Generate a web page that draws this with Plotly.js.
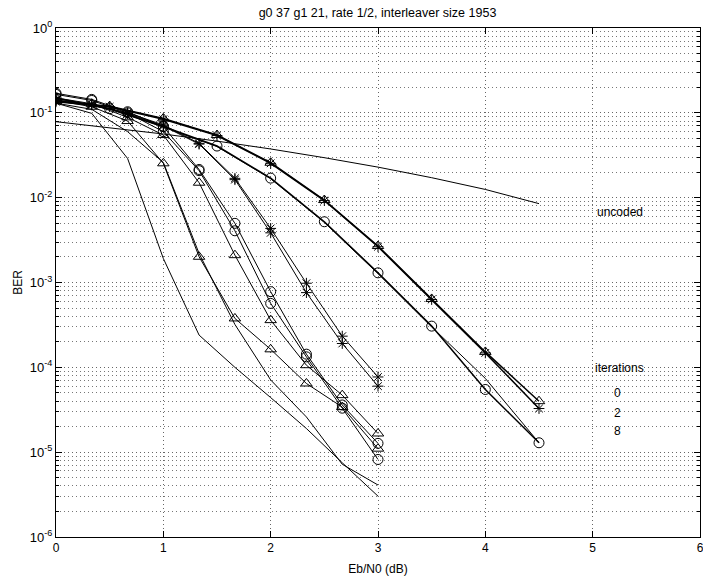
<!DOCTYPE html>
<html>
<head>
<meta charset="utf-8">
<script src="https://cdn.plot.ly/plotly-3.0.1.min.js"></script>
<style>html,body{margin:0;padding:0;background:#fff;}#chart{width:703px;height:577px;}</style>
</head>
<body>
<div id="chart"></div>
<script>
// Eb/N0 grids (dB)
const xHalf = [0, 0.5, 1, 1.5, 2, 2.5, 3, 3.5, 4, 4.5];
const xThird = [0, 0.333, 0.667, 1, 1.333, 1.667, 2, 2.333, 2.667, 3];

// uncoded BPSK
const uncoded = [0.0786, 0.0671, 0.0563, 0.0464, 0.0375, 0.0296, 0.0229, 0.0172, 0.0125, 0.0085];

// 0.5 dB step curves
const triHalf = [0.137, 0.120, 0.086, 0.0547, 0.0258, 0.00937, 0.00269, 0.00064, 0.000152, 3.99e-5];
const astHalf = [0.135, 0.118, 0.084, 0.0540, 0.0254, 0.00925, 0.00264, 0.00063, 0.000148, 3.27e-5];
const cirHalf = [0.150, 0.112, 0.069, 0.0406, 0.0170, 0.00520, 0.00130, 0.000306, 5.48e-5, 1.29e-5];
const lineHalf = [0.148, 0.110, 0.068, 0.0400, 0.0167, 0.00510, 0.00127, 0.000300, 7.4e-5, 1.29e-5];

// 1/3 dB step curves
const astA = [0.142, 0.126, 0.100, 0.072, 0.0437, 0.0169, 0.00434, 0.00098, 0.000233, 7.7e-5];
const astB = [0.140, 0.124, 0.098, 0.070, 0.0428, 0.0163, 0.00385, 0.00076, 0.000191, 6.0e-5];
const cirA = [0.170, 0.144, 0.103, 0.0687, 0.0215, 0.00498, 0.00078, 0.000143, 3.6e-5, 1.27e-5];
const cirB = [0.165, 0.140, 0.100, 0.0600, 0.0208, 0.00407, 0.000567, 0.000133, 3.3e-5, 8.2e-6];
const triA = [0.150, 0.128, 0.0885, 0.0547, 0.0150, 0.00210, 0.00036, 0.000106, 4.7e-5, 1.66e-5];
const triB = [0.140, 0.118, 0.080, 0.0254, 0.00201, 0.000377, 0.000163, 6.45e-5, 3.4e-5, 1.1e-5];
const lineA = [0.130, 0.0986, 0.029, 0.00192, 0.00024, 0.0001, 4.4e-5, 1.9e-5, 7.5e-6, 3.03e-6];
const lineB = [0.130, 0.110, 0.060, 0.026, 0.0022, 0.00032, 7.1e-5, 2.6e-5, 7.2e-6, 4.1e-6];

// axis ticks
const yTickVals = [1e-6, 1e-5, 1e-4, 1e-3, 1e-2, 1e-1, 1];
const yTickText = ["10<sup>-6</sup>", "10<sup>-5</sup>", "10<sup>-4</sup>", "10<sup>-3</sup>", "10<sup>-2</sup>", "10<sup>-1</sup>", "10<sup>0</sup>"];
const xTickVals = [0, 1, 2, 3, 4, 5, 6];

// annotation texts
const labelUncoded = "uncoded";
const labelIter = "iterations";
const iterCounts = ["0", "2", "8"];

const FONT = "Liberation Sans, Arial, Helvetica, sans-serif";

function tr(x, y, symbol, width) {
  const t = {x: x, y: y, type: "scatter", mode: symbol ? "lines+markers" : "lines",
    line: {color: "black", width: width || 1}, showlegend: false, hoverinfo: "skip"};
  if (symbol) {
    t.marker = {symbol: symbol, size: symbol.startsWith("asterisk") ? 9 : 10,
      color: "black", line: {color: "black", width: 1}};
  }
  return t;
}

const data = [
  tr(xHalf, uncoded, null, 1),
  tr(xThird, lineA, null, 1),
  tr(xThird, lineB, null, 1),
  tr(xThird, triA, "triangle-up-open", 1),
  tr(xThird, triB, "triangle-up-open", 1),
  tr(xThird, cirA, "circle-open", 1),
  tr(xThird, cirB, "circle-open", 1),
  tr(xThird, astA, "asterisk-open", 1),
  tr(xThird, astB, "asterisk-open", 1),
  tr(xHalf, lineHalf, null, 1),
  tr(xHalf, cirHalf, "circle-open", 1.5),
  tr(xHalf, triHalf, "triangle-up-open", 1.5),
  tr(xHalf, astHalf, "asterisk-open", 1.5)
];

const annotations = [
  {x: 5.02, y: Math.log10(0.0068), xref: "x", yref: "y", text: labelUncoded, showarrow: false, xanchor: "left", yanchor: "middle", font: {family: FONT, size: 12, color: "black"}},
  {x: 5.0, y: Math.log10(9.7e-5), xref: "x", yref: "y", text: labelIter, showarrow: false, xanchor: "left", yanchor: "middle", font: {family: FONT, size: 12, color: "black"}}
];
const iterY = [5.0e-5, 2.9e-5, 1.77e-5];
iterCounts.forEach((c, i) => annotations.push({x: 5.235, y: Math.log10(iterY[i]), xref: "x", yref: "y", text: c, showarrow: false, xanchor: "center", yanchor: "middle", font: {family: FONT, size: 12, color: "black"}}));

const gridDash = "1px,3px";
const layout = {
  width: 703, height: 577,
  margin: {l: 56, r: 3, t: 28, b: 40, pad: 0},
  paper_bgcolor: "white", plot_bgcolor: "white",
  font: {family: FONT, size: 12, color: "black"},
  title: {text: "g0 37 g1 21, rate 1/2, interleaver size 1953", x: 0.537, xanchor: "center", y: 0.985, yanchor: "top", font: {family: FONT, size: 12.5, color: "black"}},
  xaxis: {
    range: [0, 6], tickmode: "array", tickvals: xTickVals, showline: true, linecolor: "black", linewidth: 1, mirror: "allticks",
    ticks: "inside", ticklen: 6, tickcolor: "black", showgrid: true, gridcolor: "#666", griddash: gridDash, gridwidth: 1,
    zeroline: false, ticklabeloverflow: "allow", tickfont: {family: FONT, size: 12, color: "black"},
    title: {text: "Eb/N0 (dB)", font: {family: FONT, size: 12, color: "black"}, standoff: 10}
  },
  yaxis: {
    type: "log", range: [-6, 0], tickmode: "array", tickvals: yTickVals, ticktext: yTickText, showline: true, linecolor: "black", linewidth: 1, mirror: "allticks",
    ticks: "inside", ticklen: 6, tickcolor: "black", showgrid: true, gridcolor: "#666", griddash: gridDash, gridwidth: 1,
    zeroline: false, ticklabeloverflow: "allow", tickfont: {family: FONT, size: 13, color: "black"},
    minor: {dtick: "D1", ticks: "inside", ticklen: 3, tickcolor: "black", showgrid: true, gridcolor: "#777", griddash: gridDash, gridwidth: 1},
    title: {text: "BER", font: {family: FONT, size: 12, color: "black"}, standoff: 4}
  },
  annotations: annotations,
  showlegend: false
};

Plotly.newPlot("chart", data, layout, {staticPlot: true, displayModeBar: false});
</script>
</body>
</html>
